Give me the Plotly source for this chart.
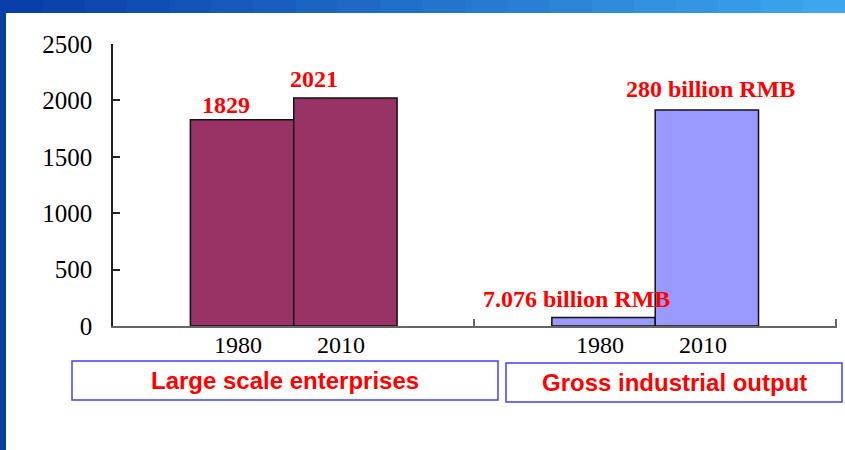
import plotly.graph_objects as go

# ---- data ----
categories = ["Large scale enterprises", "Gross industrial output"]
years = ["1980", "2010"]
values_1980 = [1829, 75]
values_2010 = [2021, 1915]
labels_1980 = ["1829", "7.076 billion RMB"]
labels_2010 = ["2021", "280 billion RMB"]
y_ticks = [0, 500, 1000, 1500, 2000, 2500]

# ---- style ----
bar_colors = ["#993366", "#9999FF"]
W, H = 845, 450
ML, MR, MT, MB = 113, 8, 44, 124
PW, PH = W - ML - MR, H - MT - MB
BAR_W = 0.2859
SERIF = "Liberation Serif, Times New Roman, serif"
SANS = "Liberation Sans, Arial, sans-serif"
RED = "#FF0000"

def px_x(p):
    return (p - ML) / PW

def px_y(p):
    return (H - MB - p) / PH

fig = go.Figure()
series = [(values_1980, labels_1980), (values_2010, labels_2010)]
for k, (vals, labs) in enumerate(series):
    fig.add_trace(go.Bar(
        x=categories, y=vals, name=years[k],
        marker=dict(color=bar_colors, line=dict(color="#111111", width=1.5)),
        hoverinfo="x+y", showlegend=False,
    ))

# value labels and year labels
label_xshift = [[-16, -27], [-31, 4]]
label_yshift = [[0, 4], [4, 6]]
annotations = []
for k, (vals, labs) in enumerate(series):
    for i, cat in enumerate(categories):
        xc = i + (k - 0.5) * BAR_W
        annotations.append(dict(
            x=xc, y=vals[i], xref="x", yref="y", text=labs[i],
            showarrow=False, yanchor="bottom", xanchor="center",
            xshift=label_xshift[k][i], yshift=label_yshift[k][i],
            font=dict(family=SERIF, size=24, color=RED, weight="bold"),
        ))
        annotations.append(dict(
            x=xc, y=0, xref="x", yref="y", text=years[k],
            showarrow=False, yanchor="middle", xanchor="center",
            xshift=-4, yshift=-19,
            font=dict(family=SERIF, size=24, color="#000000"),
        ))

# category boxes below the axis
boxes = [(72, 498, 361, 400), (506, 842, 363, 402)]
shapes = []
# slide frame
shapes.append(dict(type="rect", xref="paper", yref="paper",
                   x0=px_x(0), x1=px_x(6), y0=px_y(H), y1=px_y(0),
                   fillcolor="#0b3f9f", line=dict(width=0), layer="below"))
n_seg = 20
c0, c1 = (10, 62, 168), (60, 166, 238)
for s in range(n_seg):
    t = s / (n_seg - 1)
    col = "rgb(%d,%d,%d)" % tuple(int(c0[j] + (c1[j] - c0[j]) * t) for j in range(3))
    shapes.append(dict(type="rect", xref="paper", yref="paper",
                       x0=px_x(W * s / n_seg), x1=px_x(W * (s + 1) / n_seg + 1),
                       y0=px_y(13), y1=px_y(0),
                       fillcolor=col, line=dict(width=0), layer="below"))
for i, (x0, x1, y0, y1) in enumerate(boxes):
    shapes.append(dict(type="rect", xref="paper", yref="paper",
                       x0=px_x(x0), x1=px_x(x1), y0=px_y(y1), y1=px_y(y0),
                       line=dict(color="#3F3FFF", width=1.5), fillcolor="rgba(0,0,0,0)"))
    annotations.append(dict(
        x=px_x((x0 + x1) / 2), y=px_y((y0 + y1) / 2), xref="paper", yref="paper",
        text=categories[i], showarrow=False, xanchor="center", yanchor="middle",
        font=dict(family=SANS, size=24, color=RED, weight="bold"),
    ))

fig.update_layout(
    width=W, height=H,
    margin=dict(l=ML, r=MR, t=MT, b=MB, pad=0),
    paper_bgcolor="#FFFFFF", plot_bgcolor="#FFFFFF",
    barmode="group", bargap=1 - 2 * BAR_W, bargroupgap=0,
    shapes=shapes, annotations=annotations,
    showlegend=False,
)
fig.update_xaxes(
    type="category", range=[-0.5, 1.503], showticklabels=False,
    showline=True, linecolor="#666666", linewidth=1.5,
    ticks="inside", tickson="boundaries", ticklen=7, tickcolor="#666666", tickwidth=1.5,
    showgrid=False, zeroline=False,
)
fig.update_yaxes(
    range=[0, 2500], tickvals=y_ticks, ticktext=[str(v) for v in y_ticks],
    showline=True, linecolor="#222222", linewidth=1.5,
    ticks="inside", ticklen=7, tickcolor="#222222", tickwidth=1.5,
    ticklabelstandoff=14,
    tickfont=dict(family=SERIF, size=25, color="#000000"),
    showgrid=False, zeroline=False,
)

fig.write_html(
    "out.html",
    config={"displayModeBar": False},
    post_script="document.body.style.margin='0';document.body.style.overflow='hidden';",
)
